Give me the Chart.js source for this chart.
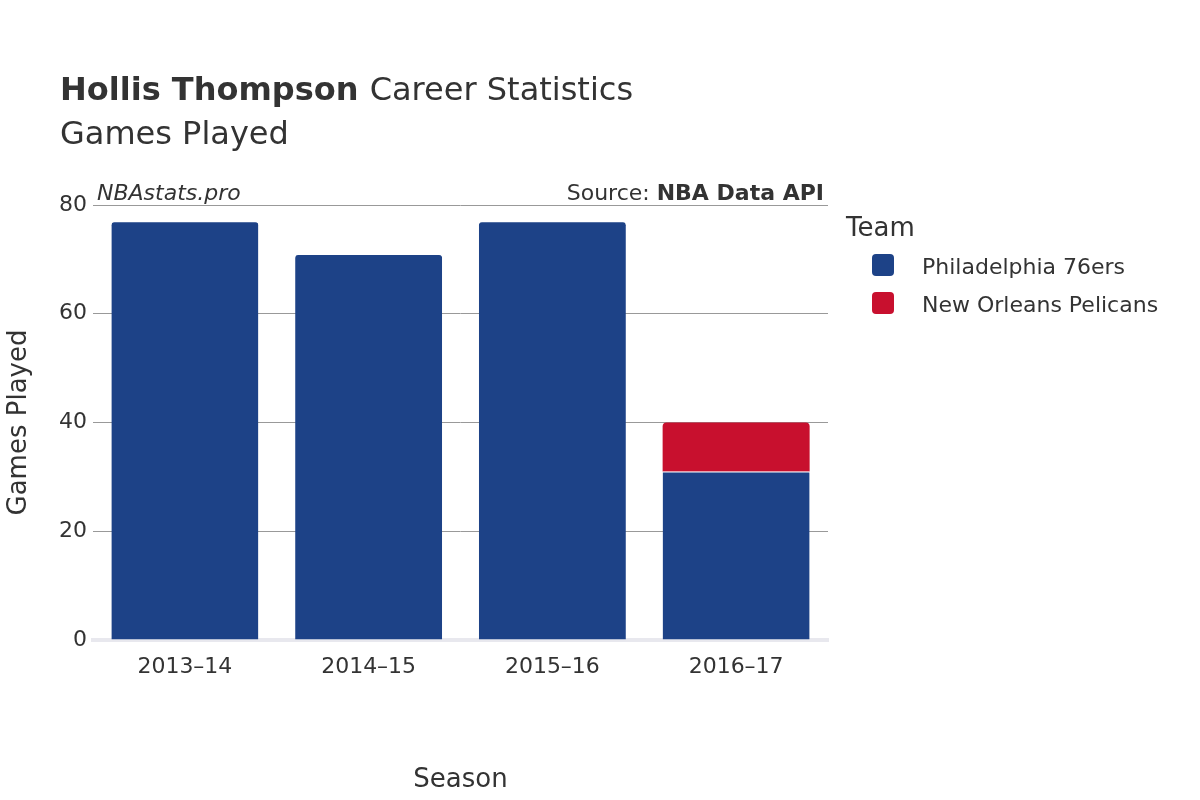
<!DOCTYPE html>
<html><head><meta charset="utf-8">
<script src="https://cdn.jsdelivr.net/npm/chart.js@4"></script>
<style>html,body{margin:0;padding:0;background:#fff}#w{width:1200px;height:800px}</style>
</head><body><div id="w"><canvas id="c"></canvas></div>
<script>
const seasons = ["2013–14","2014–15","2015–16","2016–17"];
const sixers = [77, 71, 77, 31];
const pelicans = [null, null, null, 9];
const yTicks = [0,20,40,60,80];
const F = "'DejaVu Sans', sans-serif";

const overlay = {
  id:'overlay',
  afterDraw(ch){
    const c = ch.ctx; c.save();
    c.fillStyle='#333'; c.textBaseline='alphabetic';
    c.font="bold 32px "+F; c.fillText("Hollis Thompson",60,100);
    const w=c.measureText("Hollis Thompson ").width;
    c.font="32px "+F; c.fillText("Career Statistics",60+w,100);
    c.fillText("Games Played",60,144);
    c.font="italic 22px "+F; c.fillText("NBAstats.pro",97,200);
    c.textAlign='right';
    c.font="bold 22px "+F; const bw=c.measureText("NBA Data API").width;
    c.fillText("NBA Data API",824,200);
    c.font="22px "+F; c.fillText("Source: ",824-bw,200);
    c.textAlign='left';
    c.font="26px "+F; c.fillText("Team",846,236);
    c.font="22px "+F;
    ch.data.datasets.forEach((d,i)=>{
      const y=266+i*38;
      c.fillStyle=d.backgroundColor;
      c.beginPath(); c.roundRect(872,y-12,22,22,4); c.fill();
      c.fillStyle='#333'; c.fillText(d.label,922,y+8);
    });
    c.restore();
  }
};

new Chart(document.getElementById('c'),{
  type:'bar',
  data:{labels:seasons,datasets:[
    {label:"Philadelphia 76ers",data:sixers,backgroundColor:'#1d4287',borderColor:'#fff',borderWidth:{top:1},borderRadius:4,borderSkipped:'bottom'},
    {label:"New Orleans Pelicans",data:pelicans,backgroundColor:'#c8102e',borderRadius:4,borderSkipped:'bottom'}
  ]},
  options:{
    responsive:true,maintainAspectRatio:false,animation:false,
    layout:{padding:{top:205,right:372,bottom:0,left:0}},
    plugins:{legend:{display:false},tooltip:{enabled:false}},
    datasets:{bar:{barPercentage:0.8,categoryPercentage:1}},
    scales:{
      x:{stacked:true,grid:{display:false},border:{display:true,color:'#e8e8ee',width:4},
        ticks:{color:'#333',font:{family:F,size:22},padding:6},
        title:{display:true,text:'Season',color:'#333',font:{family:F,size:26},padding:{top:18}},
        afterFit(a){a.height=160;}},
      y:{stacked:true,min:0,max:80,
        afterBuildTicks(a){a.ticks=yTicks.map(v=>({value:v}));},
        grid:{color:'#999',drawTicks:false},border:{display:false},
        ticks:{color:'#333',font:{family:F,size:22},padding:6},
        title:{display:true,text:'Games Played',color:'#333',font:{family:F,size:26},padding:{bottom:14}},
        afterFit(a){a.width=93;}}
    }
  },
  plugins:[overlay]
});
</script></body></html>
